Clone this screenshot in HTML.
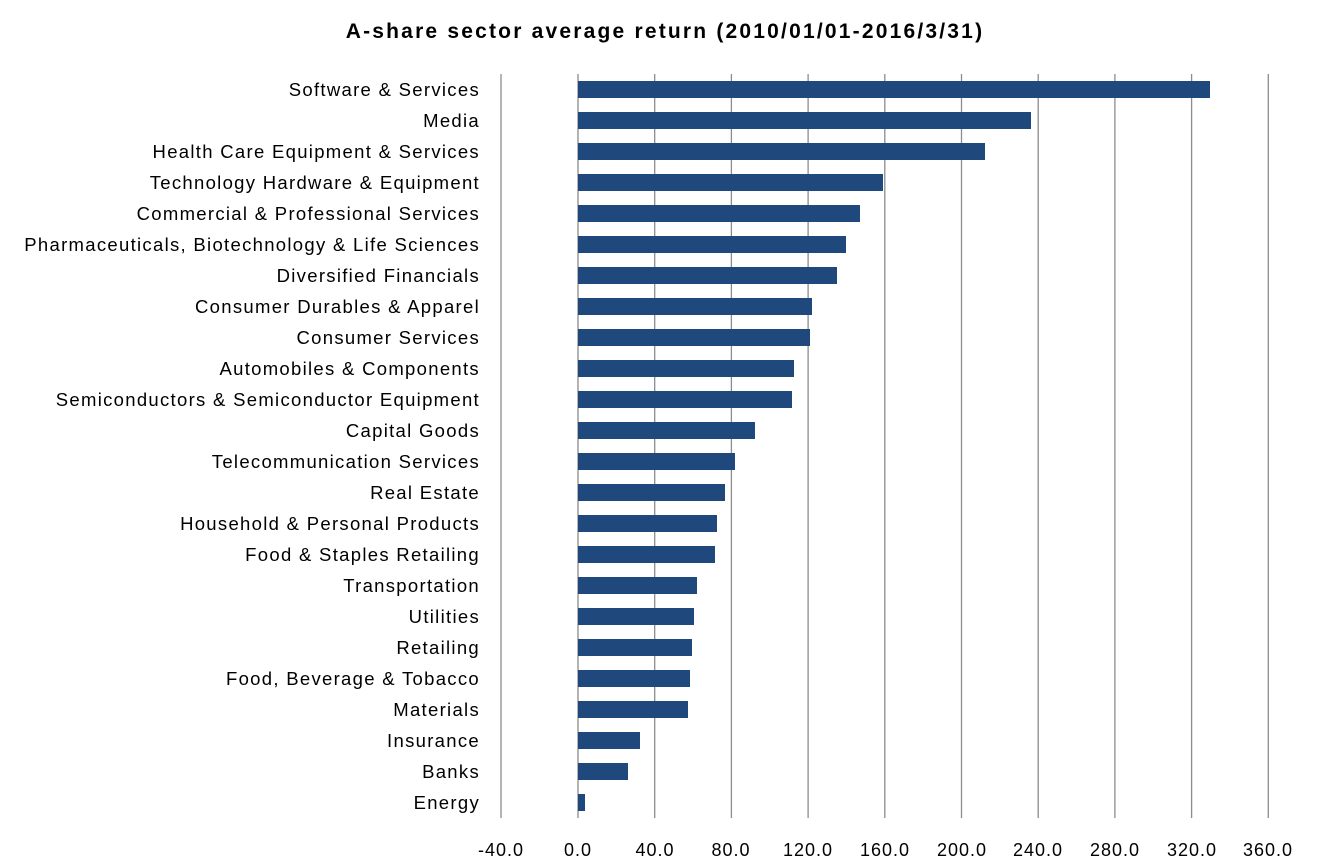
<!DOCTYPE html>
<html><head><meta charset="utf-8"><style>
html,body{margin:0;padding:0;background:#fff;}
svg{display:block;font-family:"Liberation Sans",sans-serif;}
</style></head><body>
<svg width="1320" height="866" viewBox="0 0 1320 866" xmlns="http://www.w3.org/2000/svg">
<rect width="1320" height="866" fill="#fff"/>
<text x="665" y="38" text-anchor="middle" font-size="21" font-weight="bold" letter-spacing="2.2" fill="#000">A-share sector average return (2010/01/01-2016/3/31)</text>
<g stroke="#8c8c8c" stroke-width="1.3">
<line x1="501" y1="74" x2="501" y2="818"/>
<line x1="578" y1="74" x2="578" y2="818"/>
<line x1="654.7" y1="74" x2="654.7" y2="818"/>
<line x1="731.4" y1="74" x2="731.4" y2="818"/>
<line x1="808.1" y1="74" x2="808.1" y2="818"/>
<line x1="884.8" y1="74" x2="884.8" y2="818"/>
<line x1="961.5" y1="74" x2="961.5" y2="818"/>
<line x1="1038.2" y1="74" x2="1038.2" y2="818"/>
<line x1="1114.9" y1="74" x2="1114.9" y2="818"/>
<line x1="1191.6" y1="74" x2="1191.6" y2="818"/>
<line x1="1268.3" y1="74" x2="1268.3" y2="818"/>
</g>
<g font-size="18" fill="#000" text-anchor="middle" letter-spacing="1">
<text x="501" y="856">-40.0</text><text x="578" y="856">0.0</text><text x="655" y="856">40.0</text><text x="731" y="856">80.0</text><text x="808" y="856">120.0</text><text x="885" y="856">160.0</text><text x="962" y="856">200.0</text><text x="1038" y="856">240.0</text><text x="1115" y="856">280.0</text><text x="1192" y="856">320.0</text><text x="1268" y="856">360.0</text>
</g>
<g fill="#1f497d">
<rect x="578" y="81" width="632" height="17"/>
<rect x="578" y="112" width="453" height="17"/>
<rect x="578" y="143" width="407" height="17"/>
<rect x="578" y="174" width="305" height="17"/>
<rect x="578" y="205" width="282" height="17"/>
<rect x="578" y="236" width="268" height="17"/>
<rect x="578" y="267" width="259" height="17"/>
<rect x="578" y="298" width="234" height="17"/>
<rect x="578" y="329" width="232" height="17"/>
<rect x="578" y="360" width="216" height="17"/>
<rect x="578" y="391" width="214" height="17"/>
<rect x="578" y="422" width="177" height="17"/>
<rect x="578" y="453" width="157" height="17"/>
<rect x="578" y="484" width="147" height="17"/>
<rect x="578" y="515" width="139" height="17"/>
<rect x="578" y="546" width="137" height="17"/>
<rect x="578" y="577" width="119" height="17"/>
<rect x="578" y="608" width="116" height="17"/>
<rect x="578" y="639" width="114" height="17"/>
<rect x="578" y="670" width="112" height="17"/>
<rect x="578" y="701" width="110" height="17"/>
<rect x="578" y="732" width="62" height="17"/>
<rect x="578" y="763" width="50" height="17"/>
<rect x="578" y="794" width="7" height="17"/>
</g>
<g font-size="18.5" fill="#000" text-anchor="end" letter-spacing="1.3">
<text x="480" y="96">Software &amp; Services</text>
<text x="480" y="127">Media</text>
<text x="480" y="158">Health Care Equipment &amp; Services</text>
<text x="480" y="189">Technology Hardware &amp; Equipment</text>
<text x="480" y="220">Commercial  &amp; Professional Services</text>
<text x="480" y="251">Pharmaceuticals, Biotechnology &amp; Life Sciences</text>
<text x="480" y="282">Diversified Financials</text>
<text x="480" y="313">Consumer Durables &amp; Apparel</text>
<text x="480" y="344">Consumer Services</text>
<text x="480" y="375">Automobiles &amp; Components</text>
<text x="480" y="406">Semiconductors &amp; Semiconductor Equipment</text>
<text x="480" y="437">Capital Goods</text>
<text x="480" y="468">Telecommunication Services</text>
<text x="480" y="499">Real Estate</text>
<text x="480" y="530">Household &amp; Personal Products</text>
<text x="480" y="561">Food &amp; Staples Retailing</text>
<text x="480" y="592">Transportation</text>
<text x="480" y="623">Utilities</text>
<text x="480" y="654">Retailing</text>
<text x="480" y="685">Food, Beverage &amp; Tobacco</text>
<text x="480" y="716">Materials</text>
<text x="480" y="747">Insurance</text>
<text x="480" y="778">Banks</text>
<text x="480" y="809">Energy</text>
</g>
</svg>
</body></html>
